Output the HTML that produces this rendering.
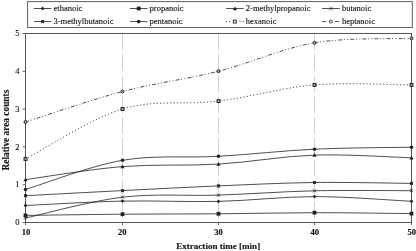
<!DOCTYPE html><html><head><meta charset="utf-8"><style>html,body{margin:0;padding:0;background:#fff;width:416px;height:251px;overflow:hidden}svg{display:block;will-change:transform}text{font-family:"Liberation Serif",serif}</style></head><body>
<svg width="416" height="251" viewBox="0 0 416 251">
<line x1="122.50" y1="33.50" x2="122.50" y2="222.50" stroke="#d0d0d0" stroke-width="1" stroke-dasharray="16.5 4.5"/>
<line x1="218.50" y1="33.50" x2="218.50" y2="222.50" stroke="#d0d0d0" stroke-width="1" stroke-dasharray="16.5 4.5"/>
<line x1="314.50" y1="33.50" x2="314.50" y2="222.50" stroke="#d0d0d0" stroke-width="1" stroke-dasharray="16.5 4.5"/>
<rect x="25.5" y="33.5" width="386.0" height="189.0" fill="none" stroke="#555" stroke-width="1"/>
<line x1="22.6" y1="222.50" x2="25.5" y2="222.50" stroke="#555" stroke-width="0.9"/>
<text transform="translate(19.60,225.10)" font-size="8.5" text-anchor="end" fill="#111" stroke="#111" stroke-width="0.12">0</text>
<line x1="22.6" y1="184.70" x2="25.5" y2="184.70" stroke="#555" stroke-width="0.9"/>
<text transform="translate(19.60,187.30)" font-size="8.5" text-anchor="end" fill="#111" stroke="#111" stroke-width="0.12">1</text>
<line x1="22.6" y1="146.90" x2="25.5" y2="146.90" stroke="#555" stroke-width="0.9"/>
<text transform="translate(19.60,149.50)" font-size="8.5" text-anchor="end" fill="#111" stroke="#111" stroke-width="0.12">2</text>
<line x1="22.6" y1="109.10" x2="25.5" y2="109.10" stroke="#555" stroke-width="0.9"/>
<text transform="translate(19.60,111.70)" font-size="8.5" text-anchor="end" fill="#111" stroke="#111" stroke-width="0.12">3</text>
<line x1="22.6" y1="71.30" x2="25.5" y2="71.30" stroke="#555" stroke-width="0.9"/>
<text transform="translate(19.60,73.90)" font-size="8.5" text-anchor="end" fill="#111" stroke="#111" stroke-width="0.12">4</text>
<line x1="22.6" y1="33.50" x2="25.5" y2="33.50" stroke="#555" stroke-width="0.9"/>
<text transform="translate(19.60,36.10)" font-size="8.5" text-anchor="end" fill="#111" stroke="#111" stroke-width="0.12">5</text>
<line x1="25.50" y1="222.5" x2="25.50" y2="225.10" stroke="#555" stroke-width="0.9"/>
<text transform="translate(26.00,234.60)" font-size="8.6" font-weight="bold" text-anchor="middle" fill="#111" stroke="#111" stroke-width="0.12">10</text>
<line x1="122.50" y1="222.5" x2="122.50" y2="225.10" stroke="#555" stroke-width="0.9"/>
<text transform="translate(122.20,234.60)" font-size="8.6" font-weight="bold" text-anchor="middle" fill="#111" stroke="#111" stroke-width="0.12">20</text>
<line x1="218.50" y1="222.5" x2="218.50" y2="225.10" stroke="#555" stroke-width="0.9"/>
<text transform="translate(218.60,234.60)" font-size="8.6" font-weight="bold" text-anchor="middle" fill="#111" stroke="#111" stroke-width="0.12">30</text>
<line x1="314.50" y1="222.5" x2="314.50" y2="225.10" stroke="#555" stroke-width="0.9"/>
<text transform="translate(314.70,234.60)" font-size="8.6" font-weight="bold" text-anchor="middle" fill="#111" stroke="#111" stroke-width="0.12">40</text>
<line x1="411.50" y1="222.5" x2="411.50" y2="225.10" stroke="#555" stroke-width="0.9"/>
<text transform="translate(411.70,234.60)" font-size="8.6" font-weight="bold" text-anchor="middle" fill="#111" stroke="#111" stroke-width="0.12">50</text>
<text transform="translate(218.20,248.70)" font-size="9.05" font-weight="bold" text-anchor="middle" fill="#111" stroke="#111" stroke-width="0.12">Extraction time [min]</text>
<text transform="translate(8.50,130.10) rotate(-90)" font-size="9.35" font-weight="bold" text-anchor="middle" fill="#111" stroke="#111" stroke-width="0.12">Relative area counts</text>
<path d="M25.50,205.50 C41.67,204.77 90.33,201.78 122.50,201.10 C154.67,200.42 186.50,202.15 218.50,201.40 C250.50,200.65 282.33,196.62 314.50,196.60 C346.67,196.58 395.33,200.52 411.50,201.30" fill="none" stroke="#222" stroke-width="0.8" />
<path d="M25.50,203.60 L27.40,205.50 L25.50,207.40 L23.60,205.50Z" fill="#222"/>
<path d="M122.50,199.20 L124.40,201.10 L122.50,203.00 L120.60,201.10Z" fill="#222"/>
<path d="M218.50,199.50 L220.40,201.40 L218.50,203.30 L216.60,201.40Z" fill="#222"/>
<path d="M314.50,194.70 L316.40,196.60 L314.50,198.50 L312.60,196.60Z" fill="#222"/>
<path d="M411.50,199.40 L413.40,201.30 L411.50,203.20 L409.60,201.30Z" fill="#222"/>
<path d="M25.50,215.40 C41.67,215.20 90.33,214.47 122.50,214.20 C154.67,213.93 186.50,214.05 218.50,213.80 C250.50,213.55 282.33,212.73 314.50,212.70 C346.67,212.67 395.33,213.45 411.50,213.60" fill="none" stroke="#222" stroke-width="0.8" />
<rect x="23.60" y="213.50" width="3.80" height="3.80" fill="#222"/>
<rect x="120.60" y="212.30" width="3.80" height="3.80" fill="#222"/>
<rect x="216.60" y="211.90" width="3.80" height="3.80" fill="#222"/>
<rect x="312.60" y="210.80" width="3.80" height="3.80" fill="#222"/>
<rect x="409.60" y="211.70" width="3.80" height="3.80" fill="#222"/>
<path d="M25.50,179.60 C41.67,177.43 90.33,169.18 122.50,166.60 C154.67,164.02 186.50,166.02 218.50,164.10 C250.50,162.18 282.33,156.15 314.50,155.10 C346.67,154.05 395.33,157.35 411.50,157.80" fill="none" stroke="#222" stroke-width="0.8" />
<path d="M25.50,177.50 L27.60,181.28 L23.40,181.28Z" fill="#222"/>
<path d="M122.50,164.50 L124.60,168.28 L120.40,168.28Z" fill="#222"/>
<path d="M218.50,162.00 L220.60,165.78 L216.40,165.78Z" fill="#222"/>
<path d="M314.50,153.00 L316.60,156.78 L312.40,156.78Z" fill="#222"/>
<path d="M411.50,155.70 L413.60,159.48 L409.40,159.48Z" fill="#222"/>
<path d="M25.50,218.00 C41.67,214.53 90.33,201.02 122.50,197.20 C154.67,193.38 186.50,196.17 218.50,195.10 C250.50,194.03 282.33,191.53 314.50,190.80 C346.67,190.07 395.33,190.72 411.50,190.70" fill="none" stroke="#222" stroke-width="0.8" />
<path d="M24.00,216.50 L27.00,219.50 M27.00,216.50 L24.00,219.50" stroke="#222" stroke-width="0.8" fill="none"/>
<path d="M121.00,195.70 L124.00,198.70 M124.00,195.70 L121.00,198.70" stroke="#222" stroke-width="0.8" fill="none"/>
<path d="M217.00,193.60 L220.00,196.60 M220.00,193.60 L217.00,196.60" stroke="#222" stroke-width="0.8" fill="none"/>
<path d="M313.00,189.30 L316.00,192.30 M316.00,189.30 L313.00,192.30" stroke="#222" stroke-width="0.8" fill="none"/>
<path d="M410.00,189.20 L413.00,192.20 M413.00,189.20 L410.00,192.20" stroke="#222" stroke-width="0.8" fill="none"/>
<path d="M25.50,195.70 C41.67,194.85 90.33,192.23 122.50,190.60 C154.67,188.97 186.50,187.25 218.50,185.90 C250.50,184.55 282.33,182.92 314.50,182.50 C346.67,182.08 395.33,183.25 411.50,183.40" fill="none" stroke="#222" stroke-width="0.8" />
<rect x="24.00" y="194.20" width="3.00" height="3.00" fill="#222" opacity="0.85"/><path d="M23.90,194.10 L27.10,197.30 M27.10,194.10 L23.90,197.30" stroke="#222" stroke-width="0.6"/>
<rect x="121.00" y="189.10" width="3.00" height="3.00" fill="#222" opacity="0.85"/><path d="M120.90,189.00 L124.10,192.20 M124.10,189.00 L120.90,192.20" stroke="#222" stroke-width="0.6"/>
<rect x="217.00" y="184.40" width="3.00" height="3.00" fill="#222" opacity="0.85"/><path d="M216.90,184.30 L220.10,187.50 M220.10,184.30 L216.90,187.50" stroke="#222" stroke-width="0.6"/>
<rect x="313.00" y="181.00" width="3.00" height="3.00" fill="#222" opacity="0.85"/><path d="M312.90,180.90 L316.10,184.10 M316.10,180.90 L312.90,184.10" stroke="#222" stroke-width="0.6"/>
<rect x="410.00" y="181.90" width="3.00" height="3.00" fill="#222" opacity="0.85"/><path d="M409.90,181.80 L413.10,185.00 M413.10,181.80 L409.90,185.00" stroke="#222" stroke-width="0.6"/>
<path d="M25.50,189.50 C41.67,184.63 90.33,165.83 122.50,160.30 C154.67,154.77 186.50,158.15 218.50,156.30 C250.50,154.45 282.33,150.72 314.50,149.20 C346.67,147.68 395.33,147.53 411.50,147.20" fill="none" stroke="#222" stroke-width="0.8" />
<circle cx="25.50" cy="189.50" r="1.80" fill="#222"/>
<circle cx="122.50" cy="160.30" r="1.80" fill="#222"/>
<circle cx="218.50" cy="156.30" r="1.80" fill="#222"/>
<circle cx="314.50" cy="149.20" r="1.80" fill="#222"/>
<circle cx="411.50" cy="147.20" r="1.80" fill="#222"/>
<path d="M25.50,159.00 C41.67,150.67 90.33,118.65 122.50,109.00 C154.67,99.35 186.50,105.12 218.50,101.10 C250.50,97.08 282.33,87.60 314.50,84.90 C346.67,82.20 395.33,84.90 411.50,84.90" fill="none" stroke="#222" stroke-width="0.8" stroke-dasharray="1.2 2.15"/>
<rect x="24.05" y="157.55" width="2.90" height="2.90" fill="#aaa" stroke="#222" stroke-width="1"/>
<rect x="121.05" y="107.55" width="2.90" height="2.90" fill="#aaa" stroke="#222" stroke-width="1"/>
<rect x="217.05" y="99.65" width="2.90" height="2.90" fill="#aaa" stroke="#222" stroke-width="1"/>
<rect x="313.05" y="83.45" width="2.90" height="2.90" fill="#aaa" stroke="#222" stroke-width="1"/>
<rect x="410.05" y="83.45" width="2.90" height="2.90" fill="#aaa" stroke="#222" stroke-width="1"/>
<path d="M25.50,122.00 C41.67,116.92 90.33,99.97 122.50,91.50 C154.67,83.03 186.50,79.32 218.50,71.20 C250.50,63.08 282.33,48.27 314.50,42.80 C346.67,37.33 395.33,39.13 411.50,38.40" fill="none" stroke="#222" stroke-width="0.8" stroke-dasharray="4 1.6 1 2.4 1 2"/>
<circle cx="25.50" cy="122.00" r="1.50" fill="#aaa" stroke="#222" stroke-width="1"/>
<circle cx="122.50" cy="91.50" r="1.50" fill="#aaa" stroke="#222" stroke-width="1"/>
<circle cx="218.50" cy="71.20" r="1.50" fill="#aaa" stroke="#222" stroke-width="1"/>
<circle cx="314.50" cy="42.80" r="1.50" fill="#aaa" stroke="#222" stroke-width="1"/>
<circle cx="411.50" cy="38.40" r="1.50" fill="#aaa" stroke="#222" stroke-width="1"/>
<rect x="27.6" y="1.6" width="384.7" height="25.9" fill="#fff" stroke="#606060" stroke-width="1"/>
<line x1="33.80" y1="8.50" x2="51.30" y2="8.50" stroke="#222" stroke-width="0.8" />
<path d="M42.60,6.60 L44.50,8.50 L42.60,10.40 L40.70,8.50Z" fill="#222"/>
<text transform="translate(53.50,11.00)" font-size="8.5" fill="#111" stroke="#111" stroke-width="0.12">ethanoic</text>
<line x1="129.90" y1="8.50" x2="147.40" y2="8.50" stroke="#222" stroke-width="0.8" />
<rect x="136.80" y="6.60" width="3.80" height="3.80" fill="#222"/>
<text transform="translate(149.60,11.00)" font-size="8.5" fill="#111" stroke="#111" stroke-width="0.12">propanoic</text>
<line x1="226.10" y1="8.50" x2="243.60" y2="8.50" stroke="#222" stroke-width="0.8" />
<path d="M234.90,6.40 L237.00,10.18 L232.80,10.18Z" fill="#222"/>
<text transform="translate(245.80,11.00)" font-size="8.5" fill="#111" stroke="#111" stroke-width="0.12">2-methylpropanoic</text>
<line x1="322.20" y1="8.50" x2="339.70" y2="8.50" stroke="#222" stroke-width="0.8" />
<path d="M329.12,6.62 L332.88,10.38 M332.88,6.62 L329.12,10.38" stroke="#222" stroke-width="0.6" fill="none"/>
<text transform="translate(341.90,11.00)" font-size="8.5" fill="#111" stroke="#111" stroke-width="0.12">butanoic</text>
<line x1="33.80" y1="21.60" x2="51.30" y2="21.60" stroke="#222" stroke-width="0.8" />
<rect x="41.10" y="20.10" width="3.00" height="3.00" fill="#222" opacity="0.85"/><path d="M41.00,20.00 L44.20,23.20 M44.20,20.00 L41.00,23.20" stroke="#222" stroke-width="0.6"/>
<text transform="translate(53.50,24.40)" font-size="8.5" fill="#111" stroke="#111" stroke-width="0.12">3-methylbutanoic</text>
<line x1="129.90" y1="21.60" x2="147.40" y2="21.60" stroke="#222" stroke-width="0.8" />
<circle cx="138.70" cy="21.60" r="1.80" fill="#222"/>
<text transform="translate(149.60,24.40)" font-size="8.5" fill="#111" stroke="#111" stroke-width="0.12">pentanoic</text>
<path d="M225.80,21.60h1.2M229.00,21.60h1.2M239.50,21.60h1.2M242.60,21.60h1.2" stroke="#222" stroke-width="0.8"/>
<rect x="233.35" y="20.15" width="2.9" height="2.9" fill="#fff" stroke="#222" stroke-width="0.95"/>
<text transform="translate(245.80,24.40)" font-size="8.5" fill="#111" stroke="#111" stroke-width="0.12">hexanoic</text>
<path d="M322.20,21.60H326.20M335.10,21.60H339.20" stroke="#222" stroke-width="0.8"/>
<circle cx="330.80" cy="21.60" r="1.45" fill="#fff" stroke="#222" stroke-width="0.9"/>
<text transform="translate(341.90,24.40)" font-size="8.5" fill="#111" stroke="#111" stroke-width="0.12">heptanoic</text>
</svg></body></html>
